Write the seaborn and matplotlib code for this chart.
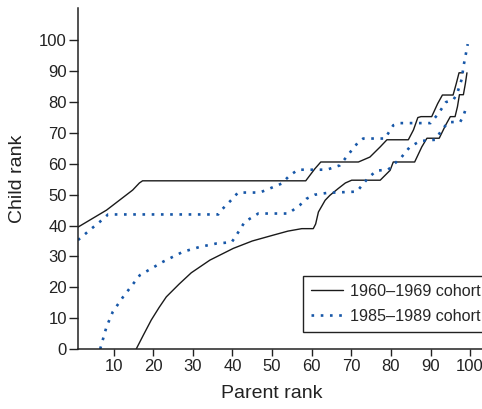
import matplotlib
matplotlib.use("Agg")
import matplotlib.pyplot as plt
import seaborn as sns
import pandas as pd
from matplotlib.lines import Line2D

# ---- data ----
series_labels = ["1960\u20131969 cohort", "1985\u20131989 cohort"]

upper_1960_x = [1, 8.2, 14.8, 16.5, 17.3, 58.5, 60.8, 62.3, 71.8, 74.7, 77.3, 79.0, 84.4,
                85.7, 86.8, 87.6, 90.3, 91.8, 93.0, 95.7, 96.5, 97.2, 98.2]
upper_1960_y = [39.5, 45.0, 51.5, 53.8, 54.5, 54.5, 58.4, 60.6, 60.6, 62.2, 65.5, 67.8, 67.8,
                71.0, 75.0, 75.3, 75.3, 79.5, 82.3, 82.3, 86.0, 89.5, 89.5]

lower_1960_x = [15.7, 17.5, 19.5, 21.5, 23.3, 26.5, 29.6, 34.3, 40.2, 45.0, 50.3, 54.0, 57.5,
                60.4, 61.0, 61.7, 63.4, 64.6, 66.7, 68.5, 70.1, 77.3, 79.8, 80.6, 86.0, 87.8,
                89.1, 92.2, 93.8, 95.0, 96.2, 96.8, 97.3, 98.3, 98.8, 99.2]
lower_1960_y = [0.0, 4.5, 9.4, 13.5, 16.9, 21.0, 24.7, 28.8, 32.6, 35.0, 36.9, 38.2, 39.0,
                39.0, 40.5, 44.4, 48.2, 49.8, 52.0, 53.8, 54.7, 54.7, 57.9, 60.6, 60.6, 65.5,
                68.3, 68.3, 72.5, 75.3, 75.3, 78.5, 82.4, 82.4, 86.0, 89.5]

upper_1985_x = [1, 4.4, 6.5, 8.6, 36.4, 36.8, 39.8, 41.4, 46.9, 49.4, 52.4, 54.5, 56.6, 63.8,
                67.1, 70.1, 71.8, 73.0, 78.5, 80.6, 82.3, 90.0, 92.0, 93.9, 95.8, 96.7, 97.9,
                98.3, 99.4]
upper_1985_y = [35.3, 39.0, 41.2, 43.6, 43.6, 44.5, 48.4, 50.7, 50.7, 52.0, 53.6, 56.3, 58.1,
                58.1, 59.5, 64.4, 67.1, 68.2, 68.2, 72.5, 73.2, 73.2, 76.3, 80.0, 80.8, 82.7,
                87.5, 91.4, 98.8]

lower_1985_x = [6.6, 8.2, 9.8, 12.4, 16.6, 22.5, 27.5, 31.8, 36.0, 39.8, 41.0, 43.1, 46.5,
                54.1, 57.0, 58.7, 60.8, 64.0, 71.4, 74.3, 76.4, 79.3, 82.7, 84.8, 87.4, 91.2,
                92.8, 94.5, 97.5, 98.3, 99.2]
lower_1985_y = [0.0, 7.2, 12.1, 16.9, 23.9, 28.3, 31.5, 33.1, 34.2, 34.6, 36.9, 41.2, 43.9,
                43.9, 46.6, 48.7, 50.0, 50.6, 51.0, 55.5, 57.8, 58.1, 62.2, 65.5, 67.4, 67.8,
                70.9, 73.5, 73.6, 75.5, 79.0]

x_ticks = [10, 20, 30, 40, 50, 60, 70, 80, 90, 100]
y_ticks = [0, 10, 20, 30, 40, 50, 60, 70, 80, 90, 100]

# ---- style ----
sns.set_style("ticks")
plt.rcParams["font.family"] = ["Liberation Sans", "DejaVu Sans"]

BLACK = "#1a1a1a"
BLUE = "#1757a8"
DOT = (0, (1.0, 2.5))

fig = plt.figure(figsize=(4.82, 4.09), dpi=100)
ax = fig.add_axes([78 / 482, 60 / 409, 404 / 482, 341 / 409])

curves = [
    (upper_1960_x, upper_1960_y, BLACK, "-", 1.0),
    (lower_1960_x, lower_1960_y, BLACK, "-", 1.0),
    (upper_1985_x, upper_1985_y, BLUE, DOT, 1.9),
    (lower_1985_x, lower_1985_y, BLUE, DOT, 1.9),
]
for cx, cy, col, ls, lw in curves:
    df = pd.DataFrame({"parent": cx, "child": cy})
    sns.lineplot(data=df, x="parent", y="child", ax=ax, sort=False, estimator=None,
                 color=col, linewidth=lw)
    ax.lines[-1].set_linestyle(ls)

ax.set_xlim(1, 103)
ax.set_ylim(0, 110.5)
ax.set_xticks(x_ticks)
ax.set_yticks(y_ticks)
ax.tick_params(axis="both", labelsize=12, colors="#222222", width=1.0, direction="out")
ax.tick_params(axis="y", length=6.5, pad=1.5)
ax.tick_params(axis="x", length=5.0, pad=2.5)
for side in ["top", "right"]:
    ax.spines[side].set_visible(False)
for side in ["left", "bottom"]:
    ax.spines[side].set_color("#222222")
    ax.spines[side].set_linewidth(1.1)

ax.set_xlabel("Parent rank", fontsize=14, color="#222222")
ax.set_ylabel("Child rank", fontsize=14, color="#222222")
ax.xaxis.set_label_coords(0.479, -0.105)
ax.yaxis.set_label_coords(-0.128, 0.5)

handles = [
    Line2D([], [], color=BLACK, linewidth=1.0, linestyle="-"),
    Line2D([], [], color=BLUE, linewidth=1.9, linestyle=DOT),
]
leg = ax.legend(handles, series_labels, loc="upper left", bbox_to_anchor=(0.557, 0.214),
                fontsize=11.6, frameon=True, fancybox=False, framealpha=1,
                edgecolor="#222222", borderpad=0.5, handlelength=2.0,
                handletextpad=0.4, labelspacing=0.6, borderaxespad=0)
leg.get_frame().set_linewidth(1.0)

fig.savefig("out.png", dpi=100)
